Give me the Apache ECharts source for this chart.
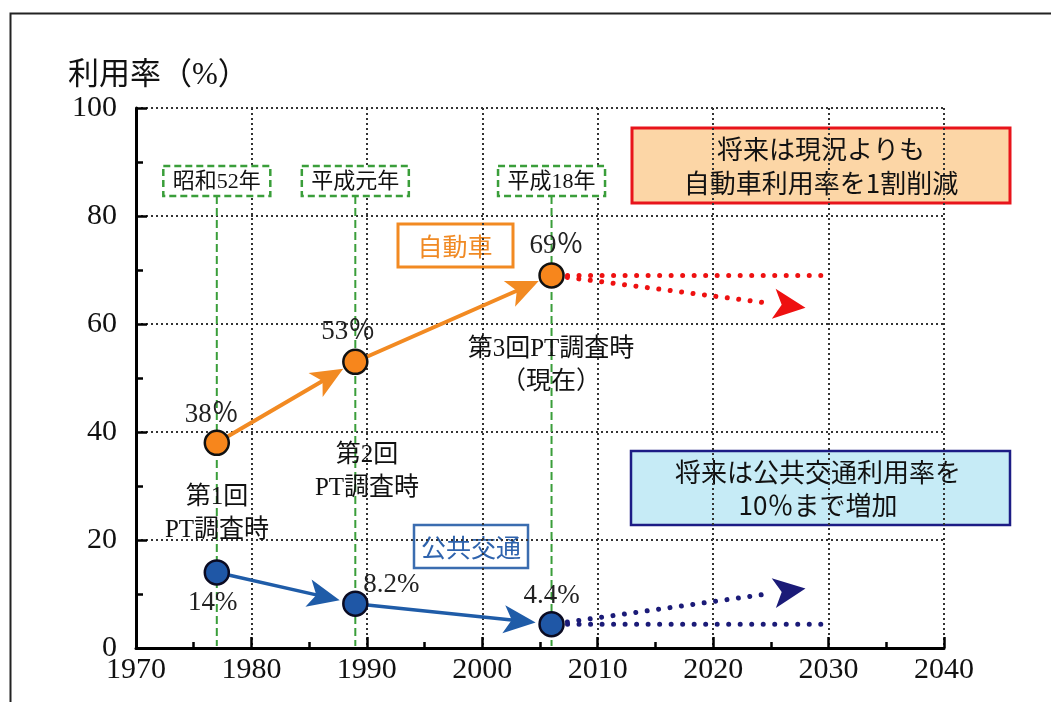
<!DOCTYPE html>
<html>
<head>
<meta charset="utf-8">
<script src="https://cdn.jsdelivr.net/npm/echarts@6/dist/echarts.min.js"></script>
<style>
  html, body { margin: 0; padding: 0; background: #ffffff; }
  #chart { width: 1051px; height: 702px; }
</style>
</head>
<body>
<div id="chart"></div>
<script>
// Person-trip (PT) survey years and their era names
const surveyYears = [1977, 1989, 2006];
const eraNames = ['昭和52年', '平成元年', '平成18年'];
const surveyNotes = ['第1回\nPT調査時', '第2回\nPT調査時', '第3回PT調査時\n（現在）'];

// Modal share (%) measured at each survey
const carShare = [38, 53, 69];
const transitShare = [14, 8.2, 4.4];

// Future direction: [year, share] where each target arrow points
const carTarget = [2028, 63];
const transitTarget = [2028, 11];
const projectionEndYear = 2030;

// Axis ticks
const xTicks = [1970, 1980, 1990, 2000, 2010, 2020, 2030, 2040];
const yTicks = [0, 20, 40, 60, 80, 100];

// ---- layout & style ----
const SERIF = "'Liberation Serif', 'Noto Sans CJK JP', serif";
const GOTHIC = "'Noto Sans CJK JP', sans-serif";
const MARKER_R = 12;
const ERA_TAG_LEVEL = 86.5;          // vertical level (in % units) of the era tags
const CAR_LABEL_OFFSETS = [[-5, -28], [-7, -30], [5, -29]];
const TRANSIT_LABEL_OFFSETS = [[-4, 31], [36, -19], [0, -28]];
const NOTE_CENTERS = [[217, 514], [367, 472], [551, 366]];

const COLORS = {
  car: '#f7861c', carArrow: '#f28a22',
  transit: '#1f57a6', transitArrow: '#1f5ca8',
  carFuture: '#ee1111', transitFuture: '#1b1b78',
  era: '#3a9e3a', grid: '#333333'
};

function pairs(years, values) {
  return years.slice(1).map((y, i) => [years[i], values[i], y, values[i + 1]]);
}

// Straight segment between two data points, optionally ending in a notched arrowhead
function arrowRenderer(opt) {
  return function (params, api) {
    const p0 = api.coord([api.value(0), api.value(1)]);
    const p1 = api.coord([api.value(2), api.value(3)]);
    const dx = p1[0] - p0[0], dy = p1[1] - p0[1];
    const len = Math.hypot(dx, dy) || 1;
    const ux = dx / len, uy = dy / len, nx = -uy, ny = ux;
    const s = [p0[0] + ux * opt.startGap, p0[1] + uy * opt.startGap];
    const tip = [p1[0] - ux * opt.endGap, p1[1] - uy * opt.endGap];
    const children = [];
    let lineEnd = tip;
    if (opt.head) {
      const L = opt.headLen, W = opt.headHalf, N = opt.notch;
      const base = [tip[0] - ux * L, tip[1] - uy * L];
      const notch = [base[0] + ux * N, base[1] + uy * N];
      const left = [base[0] + nx * W, base[1] + ny * W];
      const right = [base[0] - nx * W, base[1] - ny * W];
      lineEnd = opt.dash ? [base[0] - ux * 4, base[1] - uy * 4] : notch;
      children.push({
        type: 'polygon', z2: 2,
        shape: { points: [tip, left, notch, right] },
        style: { fill: opt.color }
      });
    }
    children.push({
      type: 'line', z2: 1,
      shape: { x1: s[0], y1: s[1], x2: lineEnd[0], y2: lineEnd[1] },
      style: {
        stroke: opt.color, lineWidth: opt.width,
        lineDash: opt.dash || null, lineCap: 'round'
      }
    });
    return { type: 'group', children };
  };
}

function arrowSeries(data, opt, z) {
  return {
    type: 'custom', coordinateSystem: 'cartesian2d', silent: true, z: z || 4,
    renderItem: arrowRenderer(opt), data: data, animation: false
  };
}

const solidHead = { head: true, headLen: 32, headHalf: 14, notch: 8 };
const dotted = [0.01, 11.5];

const chart = echarts.init(document.getElementById('chart'), null, { renderer: 'canvas' });

const option = {
  backgroundColor: '#ffffff',
  animation: false,
  grid: { left: 136, right: 107, top: 108, bottom: 54, outerBoundsMode: 'none' },
  xAxis: {
    type: 'value',
    min: xTicks[0], max: xTicks[xTicks.length - 1], interval: xTicks[1] - xTicks[0],
    axisLine: { show: true, onZero: false, lineStyle: { color: '#000', width: 3 } },
    axisTick: { show: true, inside: true, length: 11, lineStyle: { color: '#000', width: 2.5 } },
    minorTick: { show: true, splitNumber: 2, length: 6, lineStyle: { color: '#000', width: 2.5 } },
    splitLine: { show: true, showMinLine: false, showMaxLine: true,
      lineStyle: { color: COLORS.grid, width: 2, type: [2, 3] } },
    minorSplitLine: { show: false },
    axisLabel: { margin: 7, color: '#111', fontFamily: SERIF, fontSize: 30,
      showMinLabel: true, showMaxLabel: true, formatter: v => String(v) }
  },
  yAxis: {
    type: 'value',
    min: yTicks[0], max: yTicks[yTicks.length - 1], interval: yTicks[1] - yTicks[0],
    axisLine: { show: true, onZero: false, lineStyle: { color: '#000', width: 3 } },
    axisTick: { show: true, inside: true, length: 11, lineStyle: { color: '#000', width: 2.5 } },
    minorTick: { show: true, splitNumber: 2, length: 7, lineStyle: { color: '#000', width: 2.5 } },
    splitLine: { show: true, showMinLine: false, showMaxLine: true,
      lineStyle: { color: COLORS.grid, width: 2, type: [2, 3] } },
    minorSplitLine: { show: false },
    axisLabel: { margin: 19, color: '#111', fontFamily: SERIF, fontSize: 30,
      showMinLabel: true, showMaxLabel: true, formatter: v => String(v) }
  },
  series: [
    // era tags with dashed guide lines down to the axis
    {
      type: 'custom', coordinateSystem: 'cartesian2d', silent: true, z: 2,
      data: surveyYears.map((y, i) => [y, i]),
      renderItem: function (params, api) {
        const c = api.coord([api.value(0), ERA_TAG_LEVEL]);
        const bottom = api.coord([api.value(0), yTicks[0]]);
        const w = 107, h = 30;
        return {
          type: 'group',
          children: [
            { type: 'line',
              shape: { x1: c[0], y1: c[1] + h / 2, x2: c[0], y2: bottom[1] - 2 },
              style: { stroke: COLORS.era, lineWidth: 2, lineDash: [8, 4] } },
            { type: 'rect',
              shape: { x: c[0] - w / 2, y: c[1] - h / 2, width: w, height: h },
              style: { fill: '#ffffff', stroke: COLORS.era, lineWidth: 2.5, lineDash: [7, 4] } },
            { type: 'text', x: c[0], y: c[1] + 1,
              style: { text: eraNames[api.value(1)], font: '22px ' + SERIF, fill: '#111',
                align: 'center', verticalAlign: 'middle' } }
          ]
        };
      }
    },
    // survey-to-survey trend arrows
    arrowSeries(pairs(surveyYears, carShare),
      Object.assign({ color: COLORS.carArrow, width: 4, startGap: MARKER_R, endGap: MARKER_R + 2 }, solidHead)),
    arrowSeries(pairs(surveyYears, transitShare),
      Object.assign({ color: COLORS.transitArrow, width: 3.5, startGap: MARKER_R, endGap: MARKER_R + 4 }, solidHead)),
    // future direction (dotted): flat continuation and target arrow
    arrowSeries([[surveyYears[2], carShare[2], projectionEndYear, carShare[2]]],
      { color: COLORS.carFuture, width: 5, dash: dotted, startGap: MARKER_R + 4, endGap: 0, head: false }),
    arrowSeries([[surveyYears[2], carShare[2], carTarget[0], carTarget[1]]],
      { color: COLORS.carFuture, width: 5, dash: dotted, startGap: MARKER_R + 4, endGap: 0,
        head: true, headLen: 32, headHalf: 15, notch: 8 }),
    arrowSeries([[surveyYears[2], transitShare[2], projectionEndYear, transitShare[2]]],
      { color: COLORS.transitFuture, width: 5, dash: dotted, startGap: MARKER_R + 4, endGap: 0, head: false }),
    arrowSeries([[surveyYears[2], transitShare[2], transitTarget[0], transitTarget[1]]],
      { color: COLORS.transitFuture, width: 5, dash: dotted, startGap: MARKER_R + 4, endGap: 0,
        head: true, headLen: 32, headHalf: 15, notch: 8 }),
    // survey points
    {
      name: '自動車', type: 'scatter', z: 10, silent: true,
      symbol: 'circle', symbolSize: MARKER_R * 2,
      itemStyle: { color: COLORS.car, borderColor: '#111', borderWidth: 2.5, opacity: 1 },
      data: surveyYears.map((y, i) => ({ value: [y, carShare[i]], label: { offset: CAR_LABEL_OFFSETS[i] } })),
      label: { show: true, position: 'inside', color: '#222', fontFamily: SERIF, fontSize: 27,
        textBorderWidth: 0, formatter: p => p.value[1] + '％' },
      emphasis: { disabled: true }
    },
    {
      name: '公共交通', type: 'scatter', z: 10, silent: true,
      symbol: 'circle', symbolSize: MARKER_R * 2,
      itemStyle: { color: COLORS.transit, borderColor: '#0b0b22', borderWidth: 2.5, opacity: 1 },
      data: surveyYears.map((y, i) => ({ value: [y, transitShare[i]], label: { offset: TRANSIT_LABEL_OFFSETS[i] } })),
      label: { show: true, position: 'inside', color: '#222', fontFamily: SERIF, fontSize: 27,
        textBorderWidth: 0, formatter: p => p.value[1] + '%' },
      emphasis: { disabled: true }
    }
  ],
  graphic: [
    // outer frame
    { type: 'rect', z: 0, shape: { x: 10.5, y: 13.5, width: 1100, height: 800 },
      style: { fill: null, stroke: '#222', lineWidth: 2 } },
    // axis title
    { type: 'text', left: 68, top: 60,
      style: { text: '利用率（%）', font: '31px ' + SERIF, fill: '#111' } },
    // survey notes
    ...surveyNotes.map((t, i) => ({
      type: 'text', z: 20, x: NOTE_CENTERS[i][0], y: NOTE_CENTERS[i][1],
      style: { text: t, font: '25px ' + SERIF, fill: '#111', align: 'center',
        verticalAlign: 'middle', lineHeight: 33 }
    })),
    // mode labels
    { type: 'group', z: 20, children: [
      { type: 'rect', shape: { x: 398, y: 224, width: 115, height: 43 },
        style: { fill: '#ffffff', stroke: COLORS.carArrow, lineWidth: 3 } },
      { type: 'text', x: 455, y: 246,
        style: { text: '自動車', font: '25px ' + GOTHIC, fill: '#f08a24', align: 'center', verticalAlign: 'middle' } }
    ] },
    { type: 'group', z: 20, children: [
      { type: 'rect', shape: { x: 414, y: 525, width: 114, height: 43 },
        style: { fill: '#ffffff', stroke: '#3b6db0', lineWidth: 2.5 } },
      { type: 'text', x: 471, y: 547,
        style: { text: '公共交通', font: '25px ' + GOTHIC, fill: '#2e63ad', align: 'center', verticalAlign: 'middle' } }
    ] },
    // policy goals
    { type: 'group', z: 20, children: [
      { type: 'rect', shape: { x: 632, y: 128, width: 378, height: 75 },
        style: { fill: '#fcd6a6', stroke: '#e8141b', lineWidth: 3 } },
      { type: 'text', x: 821, y: 166,
        style: { text: '将来は現況よりも\n自動車利用率を1割削減', font: '26px ' + GOTHIC, fill: '#111',
          align: 'center', verticalAlign: 'middle', lineHeight: 34 } }
    ] },
    { type: 'group', z: 20, children: [
      { type: 'rect', shape: { x: 631, y: 451, width: 379, height: 74 },
        style: { fill: '#c6ebf6', stroke: '#1c1c85', lineWidth: 2.5 } },
      { type: 'text', x: 818, y: 489,
        style: { text: '将来は公共交通利用率を\n10％まで増加', font: '26px ' + GOTHIC, fill: '#111',
          align: 'center', verticalAlign: 'middle', lineHeight: 33 } }
    ] }
  ]
};

chart.setOption(option);
</script>
</body>
</html>
